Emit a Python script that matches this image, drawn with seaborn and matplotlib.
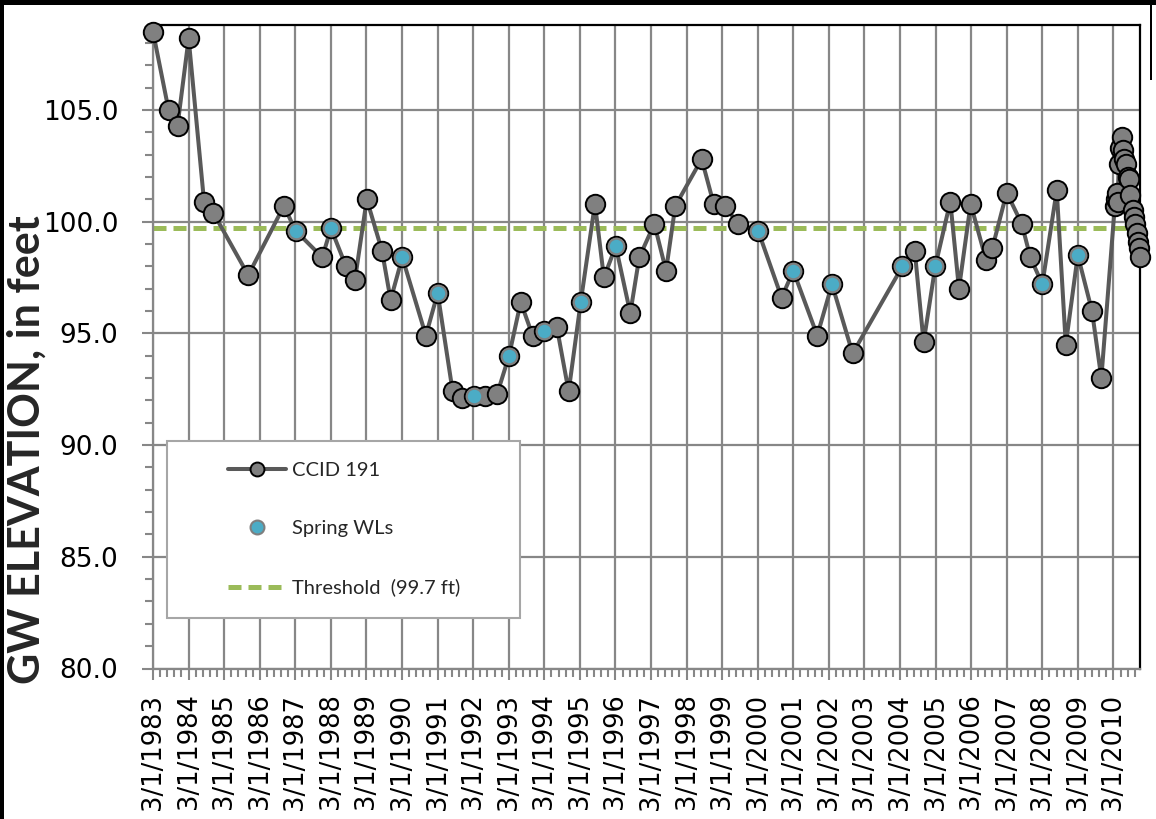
import datetime as dt

import matplotlib
matplotlib.use("Agg")
import matplotlib.pyplot as plt
import matplotlib.dates as mdates
from matplotlib.lines import Line2D
from matplotlib.patches import Rectangle
from matplotlib.ticker import FixedLocator, MultipleLocator, StrMethodFormatter
import pandas as pd
import seaborn as sns

# Groundwater elevation record for well CCID 191 (feet)
ccid_dates = [
    "1983-03-01", "1983-08-08", "1983-11-08", "1984-03-01", "1984-08-06", "1984-11-09",
    "1985-11-03", "1986-11-04", "1987-03-04", "1987-12-03", "1988-03-01", "1988-08-03",
    "1988-11-03", "1989-03-04", "1989-08-07", "1989-11-04", "1990-03-04", "1990-11-01",
    "1991-03-02", "1991-08-03", "1991-11-03", "1992-03-07", "1992-07-02", "1992-11-03",
    "1993-03-04", "1993-07-02", "1993-11-01", "1994-03-01", "1994-07-07", "1994-11-06",
    "1995-03-10", "1995-08-03", "1995-11-03", "1996-03-04", "1996-07-31", "1996-10-31",
    "1997-04-04", "1997-08-02", "1997-11-05", "1998-08-03", "1998-12-04", "1999-04-03",
    "1999-08-07", "2000-03-04", "2000-11-01", "2001-03-01", "2001-11-02", "2002-04-02",
    "2002-10-31", "2004-03-26", "2004-07-30", "2004-10-29", "2005-02-26", "2005-07-30",
    "2005-10-27", "2006-02-24", "2006-07-31", "2006-10-04", "2007-03-01", "2007-08-03",
    "2007-10-30", "2008-03-01", "2008-07-27", "2008-10-28", "2009-02-28", "2009-07-24",
    "2009-10-28",
    "2010-03-15", "2010-03-29", "2010-04-05", "2010-04-12", "2010-04-26", "2010-05-10",
    "2010-05-24", "2010-06-07", "2010-06-21", "2010-07-12", "2010-07-26", "2010-08-09",
    "2010-08-23", "2010-09-13", "2010-09-27", "2010-10-11", "2010-10-25", "2010-11-08",
    "2010-11-22", "2010-11-29",
]
ccid_elev = [
    108.5, 105.0, 104.3, 108.2, 100.9, 100.4,
    97.6, 100.7, 99.6, 98.4, 99.7, 98.0,
    97.4, 101.0, 98.7, 96.5, 98.4, 94.9,
    96.8, 92.4, 92.1, 92.2, 92.2, 92.3,
    94.0, 96.4, 94.9, 95.1, 95.3, 92.4,
    96.4, 100.8, 97.5, 98.9, 95.9, 98.4,
    99.9, 97.8, 100.7, 102.8, 100.8, 100.7,
    99.9, 99.6, 96.6, 97.8, 94.9, 97.2,
    94.1, 98.0, 98.7, 94.6, 98.0, 100.9,
    97.0, 100.8, 98.3, 98.8, 101.3, 99.9,
    98.4, 97.2, 101.4, 94.5, 98.5, 96.0,
    93.0,
    100.7, 101.0, 101.3, 100.9, 102.6, 103.3,
    103.8, 103.2, 102.8, 102.6, 102.0, 101.9,
    101.2, 100.5, 100.2, 99.9, 99.5, 99.1,
    98.8, 98.4,
]

# Spring water-level readings
spring_dates = [
    "1987-03-04", "1988-03-01", "1990-03-04", "1991-03-02", "1992-03-07", "1993-03-04",
    "1994-03-01", "1995-03-10", "1996-03-04", "2000-03-04", "2001-03-01", "2002-04-02",
    "2004-03-26", "2005-02-26", "2008-03-01", "2009-02-28",
]
spring_elev = [
    99.6, 99.7, 98.4, 96.8, 92.2, 94.0,
    95.1, 96.4, 98.9, 99.6, 97.8, 97.2,
    98.0, 98.0, 97.2, 98.5,
]

threshold_ft = 99.7
tick_years = list(range(1983, 2011))
tick_labels = [f"3/1/{y}" for y in tick_years]
series_labels = ["CCID 191", "Spring WLs", "Threshold  (99.7 ft)"]

LINE_GREY = "#595959"
MARKER_GREY = "#808080"
GRID_GREY = "#878787"
SPRING_BLUE = "#4BACC6"
THRESH_GREEN = "#9BBB59"

sns.set_theme(style="white")
plt.rcParams["font.family"] = ["DejaVu Sans"]

W, H = 1156, 819
fig = plt.figure(figsize=(W / 100, H / 100), dpi=100)
ax_left, ax_right, ax_top, ax_bottom = 153, 1140, 25, 668.5
ax = fig.add_axes([ax_left / W, 1 - ax_bottom / H, (ax_right - ax_left) / W, (ax_bottom - ax_top) / H])

wells = pd.DataFrame({"date": pd.to_datetime(ccid_dates), "elev": ccid_elev})
spring = pd.DataFrame({"date": pd.to_datetime(spring_dates), "elev": spring_elev})

ax.axhline(threshold_ft, color=THRESH_GREEN, lw=3.6, dashes=(2.6, 1.4), zorder=2)

sns.lineplot(
    data=wells, x="date", y="elev", ax=ax, sort=False, legend=False,
    color=LINE_GREY, lw=2.9, marker="o", markersize=14,
    markerfacecolor=MARKER_GREY, markeredgecolor="black", markeredgewidth=1.4,
    zorder=3, clip_on=False,
)
sns.scatterplot(
    data=spring, x="date", y="elev", ax=ax, legend=False,
    s=125, color=SPRING_BLUE, edgecolor="#7F7F7F", linewidth=1.5,
    zorder=4, clip_on=False,
)

# Axis ranges
x0 = mdates.date2num(dt.datetime(1983, 3, 1))
x1 = mdates.date2num(pd.Timestamp(ccid_dates[-1]))
ax.set_xlim(x0, x1)
ax.set_ylim(80, 108.8)

# Date axis: majors on March 1 each year, minors every 73 days
major_pos = [mdates.date2num(dt.datetime(y, 3, 1)) for y in tick_years]
minor_pos = [p + 73 * k for p in major_pos for k in range(1, 5)]
minor_pos = [p for p in minor_pos if p <= x1 + 0.5]
ax.xaxis.set_major_locator(FixedLocator(major_pos))
ax.xaxis.set_minor_locator(FixedLocator(minor_pos))
ax.set_xticklabels(tick_labels, rotation=90)

ax.yaxis.set_major_locator(MultipleLocator(5))
ax.yaxis.set_minor_locator(MultipleLocator(1))
ax.yaxis.set_major_formatter(StrMethodFormatter("{x:.1f}"))

ax.grid(True, which="major", color=GRID_GREY, lw=1.6, zorder=0)
ax.set_axisbelow(True)

ax.tick_params(axis="both", which="major", direction="out", length=8, width=1.5,
               color=GRID_GREY, labelcolor="black")
ax.tick_params(axis="both", which="minor", direction="out", length=6, width=1.5,
               color=GRID_GREY)
ax.tick_params(axis="y", which="major", pad=17, labelsize=19)
ax.tick_params(axis="x", which="major", pad=10, labelsize=18.5)
ax.tick_params(axis="both", which="both", bottom=True, left=True)

for side in ("left", "bottom"):
    ax.spines[side].set_color(GRID_GREY)
    ax.spines[side].set_linewidth(1.6)
for side in ("top", "right"):
    ax.spines[side].set_color("black")
    ax.spines[side].set_linewidth(1.6)

ax.set_xlabel("")
ax.set_ylabel("")
fig.text(27 / W, 1 - 450 / H, "GW ELEVATION, in feet", rotation=90,
         ha="center", va="center", fontsize=31, fontweight="bold",
         family=["Lato", "DejaVu Sans"])

# Legend box with its entries
box = Rectangle((0.0139, 0.078), 0.372 - 0.0139, 0.3535 - 0.078, transform=ax.transAxes,
                facecolor="white", edgecolor="#A6A6A6", lw=1.5, zorder=5)
ax.add_patch(box)
handles = [
    Line2D([], [], color=LINE_GREY, lw=2.9, marker="o", markersize=10,
           markerfacecolor=MARKER_GREY, markeredgecolor="black", markeredgewidth=1.4),
    Line2D([], [], lw=0, marker="o", markersize=10, markerfacecolor=SPRING_BLUE,
           markeredgecolor="#7F7F7F", markeredgewidth=1.5),
    Line2D([], [], color=THRESH_GREEN, lw=3.6, dashes=(2.6, 1.4)),
]
leg = ax.legend(handles, series_labels, loc="upper left", bbox_to_anchor=(0.076, 0.321),
                frameon=False, borderpad=0, borderaxespad=0, handlelength=2.87,
                handletextpad=0.3, labelspacing=2.05, prop={"family": "Lato", "size": 14.5})
leg.set_zorder(6)

# Outer black frame: top and left edges, plus a short stub at the upper right
fig.patches.append(Rectangle((0, 1 - 5 / H), 1, 5 / H, transform=fig.transFigure,
                             facecolor="black", edgecolor="none"))
fig.patches.append(Rectangle((0, 0), 4 / W, 1, transform=fig.transFigure,
                             facecolor="black", edgecolor="none"))
fig.patches.append(Rectangle((1150 / W, 1 - 80 / H), 2 / W, 80 / H, transform=fig.transFigure,
                             facecolor="black", edgecolor="none"))

fig.savefig("out.png", dpi=100)
